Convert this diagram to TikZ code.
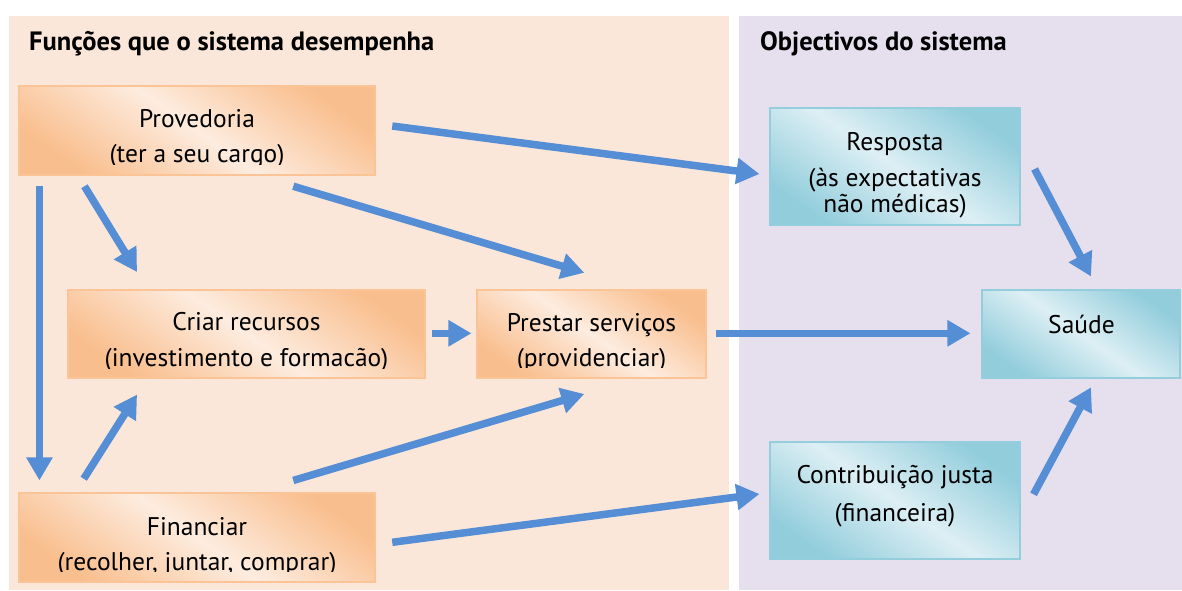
\documentclass[tikz,border=0pt]{standalone}
\usepackage{fontspec}
\setmainfont{PT Sans}
\usetikzlibrary{arrows.meta,calc}

\definecolor{peachbg}{HTML}{FBE7D9}
\definecolor{lilacbg}{HTML}{E6E0EE}
\definecolor{orDark}{HTML}{F9BE8D}
\definecolor{orLight}{HTML}{FDECDF}
\definecolor{orEdge}{HTML}{FAC497}
\definecolor{tlDark}{HTML}{92CDDC}
\definecolor{tlLight}{HTML}{DDEFF4}
\definecolor{tlEdge}{HTML}{94CEDD}
\definecolor{flow}{HTML}{558ED5}

\begin{document}
\begin{tikzpicture}[x=1pt,y=-1pt,
  obox/.style={draw=orEdge, line width=2.5pt, inner sep=0pt,
    top color=orDark, bottom color=orDark, middle color=orLight, shading angle=-35},
  tbox/.style={draw=tlEdge, line width=2.5pt, inner sep=0pt,
    top color=tlDark, bottom color=tlDark, middle color=tlLight, shading angle=-35},
  lbl/.style={anchor=base, inner sep=0pt, font=\fontsize{25.5}{28}\selectfont},
  heading/.style={anchor=base west, inner sep=0pt, font=\fontsize{26.5}{30}\selectfont\bfseries},
  flowarrow/.style={draw=flow, line width=7.5pt,
    -{Triangle[length=23pt,width=25pt]}}]

\useasboundingbox (0,0) rectangle (1182,590);
\fill[white] (0,0) rectangle (1182,590);

% two background panels
\fill[peachbg] (9,16) rectangle (728.5,590);
\fill[lilacbg] (739,16) rectangle (1182,590);

\node[heading] (hleft) at (29,50) {Funções que o sistema desempenha};
\node[heading] (hright) at (760,50) {Objectivos do sistema};

% function boxes
\node[obox, minimum width=356pt, minimum height=89pt] (prov) at (197,130.5) {};
\node[obox, minimum width=357pt, minimum height=88pt] (criar) at (246.5,334) {};
\node[obox, minimum width=229pt, minimum height=88pt] (prest) at (591.5,334) {};
\node[obox, minimum width=356pt, minimum height=89pt] (fin) at (197,537.5) {};

% goal boxes
\node[tbox, minimum width=250pt, minimum height=117pt] (resp) at (895,166.5) {};
\node[tbox, minimum width=198pt, minimum height=88pt] (saude) at (1081,334) {};
\node[tbox, minimum width=250pt, minimum height=117pt] (contr) at (895,500.5) {};

% box texts
\node[lbl] (provA) at (197,127.7) {Provedoria};
\begin{scope}
  \clip (19,135) rectangle (375,164);
  \node[lbl] (provB) at (197,162.7) {(ter a seu cargo)};
\end{scope}
\node[lbl] (criarA) at (246.5,330.7) {Criar recursos};
\begin{scope}
  \clip (68,340) rectangle (425,368);
  \node[lbl] (criarB) at (246.5,366.7) {(investimento e formacão)};
\end{scope}
\node[lbl] (prestA) at (591.5,331.5) {Prestar serviços};
\begin{scope}
  \clip (477,340) rectangle (706,367.5);
  \node[lbl] (prestB) at (591.5,366.5) {(providenciar)};
\end{scope}
\node[lbl] (finA) at (197,535) {Financiar};
\begin{scope}
  \clip (19,545) rectangle (375,571.5);
  \node[lbl] (finB) at (197,570) {(recolher, juntar, comprar)};
\end{scope}

\node[lbl] (respA) at (895,150) {Resposta};
\node[lbl] (respB) at (895,186) {(às expectativas};
\node[lbl] (respC) at (895,212.7) {não médicas)};
\node[lbl] (saudeA) at (1081.5,333.3) {Saúde};
\node[lbl] (contrA) at (895,483.3) {Contribuição justa};
\node[lbl] (contrB) at (895,521.7) {(financeira)};

% connectors
\draw[flowarrow] ($(prov.east)+(16,-4.5)$) -- ($(resp.west)+(-9.3,7.5)$);
\draw[flowarrow] ($(prov.south)+(96.3,10)$) -- ($(prest.north)+(-7.2,-16)$);
\draw[flowarrow] ($(prov.south west)+(66.7,10)$) -- ($(criar.north west)+(70.3,-16.7)$);
\draw[flowarrow] ($(prov.south west)+(21.7,9.3)$) -- ($(fin.north west)+(21.7,-11.3)$);
\draw[flowarrow] ($(fin.north west)+(66,-13)$) -- ($(criar.south west)+(70.3,15.3)$);
\draw[flowarrow] ($(fin.north)+(96.3,-11.3)$) -- ($(prest.south)+(-7.2,14.7)$);
\draw[flowarrow] ($(fin.east)+(16,4.8)$) -- ($(contr.west)+(-9.3,-6.5)$);
\draw[flowarrow] ($(criar.east)+(5.7,-0.7)$) -- ($(prest.west)+(-4.3,-0.7)$);
\draw[flowarrow] ($(prest.east)+(9,-0.7)$) -- ($(saude.west)+(-10.3,-0.7)$);
\draw[flowarrow] ($(resp.east)+(13.3,2.5)$) -- ($(saude.north)+(10,-12.3)$);
\draw[flowarrow] ($(contr.east)+(12.3,-6.2)$) -- ($(saude.south)+(10,8)$);

\end{tikzpicture}
\end{document}
